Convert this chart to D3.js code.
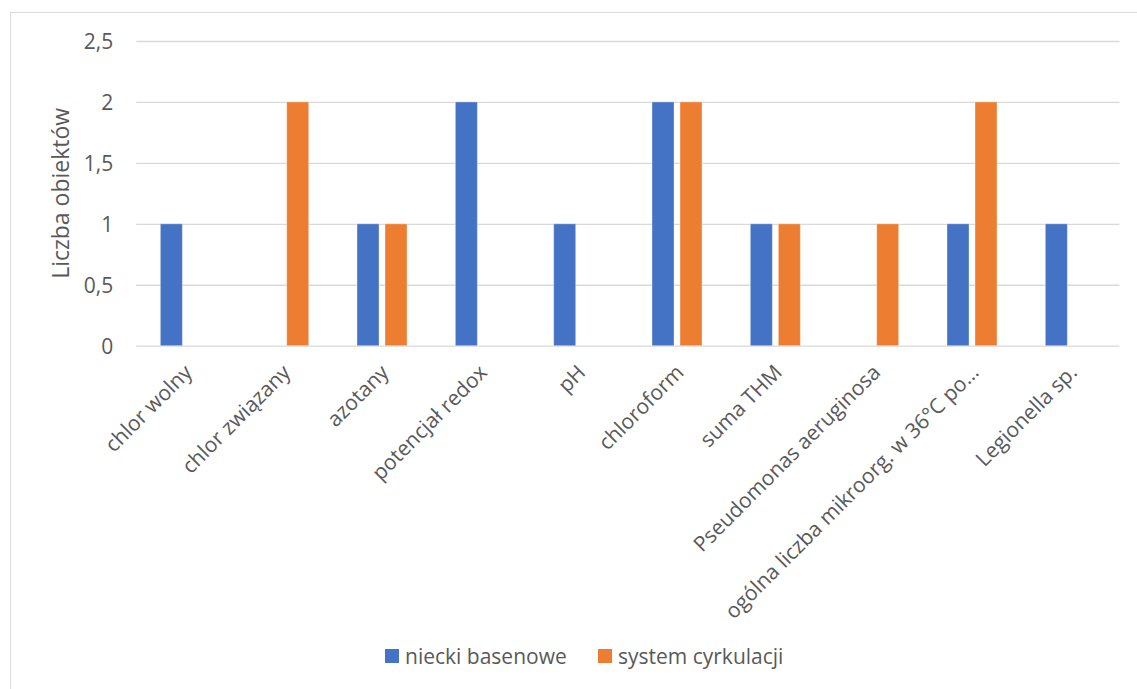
<!DOCTYPE html>
<html>
<head>
<meta charset="utf-8">
<script src="https://cdn.jsdelivr.net/npm/d3@7"></script>
<style>
  html, body { margin: 0; padding: 0; background: #fff; }
  svg { display: block; }
  svg text { font-family: "Open Sans", "Noto Sans", sans-serif; }
</style>
</head>
<body>
<svg id="chart" width="1137" height="689"></svg>
<script>
// Parameters exceeding norms, counted per facility type
const categories = [
  "chlor wolny", "chlor związany", "azotany", "potencjał redox", "pH",
  "chloroform", "suma THM", "Pseudomonas aeruginosa",
  "ogólna liczba mikroorg. w 36°C po…", "Legionella sp."
];
const seriesNames = ["niecki basenowe", "system cyrkulacji"];
const nieckiBasenowe = [1, 0, 1, 2, 1, 2, 1, 0, 1, 1];
const systemCyrkulacji = [0, 2, 1, 0, 0, 2, 1, 1, 2, 0];
const yTicks = [0, 0.5, 1, 1.5, 2, 2.5];
const seriesColors = ["#4472C4", "#ED7D31"];

const FONT = '"Open Sans", "Noto Sans", sans-serif';

const seriesValues = [nieckiBasenowe, systemCyrkulacji];
const rows = categories.map((c, i) => ({
  category: c,
  values: seriesNames.map((s, j) => ({ series: s, value: seriesValues[j][i] }))
}));

const svg = d3.select("#chart");

// outer chart frame
svg.append("rect")
  .attr("x", 10.5).attr("y", 12.5)
  .attr("width", 1140).attr("height", 690)
  .attr("fill", "#fff").attr("stroke", "#d9d9d9").attr("stroke-width", 1);

const plot = { left: 136.2, right: 1119.5, top: 41, bottom: 345.7 };

const x0 = d3.scaleBand()
  .domain(categories)
  .range([plot.left, plot.right])
  .paddingInner(0).paddingOuter(0);

const step = x0.bandwidth();
const clusterWidth = 50;
const x1 = d3.scaleBand()
  .domain(seriesNames)
  .range([(step - clusterWidth) / 2, (step + clusterWidth) / 2])
  .paddingInner(2 - clusterWidth / 28)
  .paddingOuter(0);

const color = d3.scaleOrdinal().domain(seriesNames).range(seriesColors);

const y = d3.scaleLinear().domain([0, 2.5]).range([plot.bottom, plot.top]);

const fmt = v => String(v).replace(".", ",");

// horizontal gridlines and value labels
const yAxis = d3.axisLeft(y)
  .tickValues(yTicks)
  .tickFormat(fmt)
  .tickSize(-(plot.right - plot.left))
  .tickPadding(23);

const gy = svg.append("g")
  .attr("transform", `translate(${plot.left},0)`)
  .call(yAxis)
  .attr("font-family", FONT)
  .attr("font-size", 21);
gy.select(".domain").remove();
gy.selectAll(".tick line").attr("stroke", "#d9d9d9").attr("stroke-width", 1.3);
gy.selectAll(".tick text").attr("fill", "#595959").attr("dy", "0.35em");

// bars
const groups = svg.append("g")
  .selectAll("g")
  .data(rows)
  .join("g")
  .attr("transform", d => `translate(${x0(d.category)},0)`);

groups.selectAll("rect")
  .data(d => d.values.filter(v => v.value > 0))
  .join("rect")
  .attr("x", d => x1(d.series))
  .attr("y", d => y(d.value))
  .attr("width", x1.bandwidth())
  .attr("height", d => y(0) - y(d.value))
  .attr("fill", d => color(d.series))
  .attr("stroke", "#fff")
  .attr("stroke-opacity", 0.35)
  .attr("stroke-width", 1);

// category labels, rotated
const xAxis = d3.axisBottom(x0).tickSize(0).tickPadding(0);
const gx = svg.append("g")
  .attr("transform", `translate(0,${plot.bottom})`)
  .call(xAxis)
  .attr("font-family", FONT)
  .attr("font-size", 21);
gx.select(".domain").remove();
gx.selectAll(".tick text")
  .attr("fill", "#595959")
  .attr("text-anchor", "end")
  .attr("dy", null)
  .attr("y", null)
  .attr("transform", "translate(8,28) rotate(-45)");

// y axis title
svg.append("text")
  .attr("transform", `translate(69,${(plot.top + plot.bottom) / 2}) rotate(-90)`)
  .attr("text-anchor", "middle")
  .attr("fill", "#595959")
  .attr("font-family", FONT)
  .attr("font-size", 23)
  .text("Liczba obiektów");

// legend
const legendItems = [
  { name: seriesNames[0], x: 385 },
  { name: seriesNames[1], x: 598 }
];
const legend = svg.append("g")
  .selectAll("g")
  .data(legendItems)
  .join("g")
  .attr("transform", d => `translate(${d.x},649)`);
legend.append("rect")
  .attr("width", 14).attr("height", 14)
  .attr("fill", d => color(d.name));
legend.append("text")
  .attr("x", 20).attr("y", 14.5)
  .attr("fill", "#595959")
  .attr("font-family", FONT)
  .attr("font-size", 21)
  .text(d => d.name);
</script>
</body>
</html>
